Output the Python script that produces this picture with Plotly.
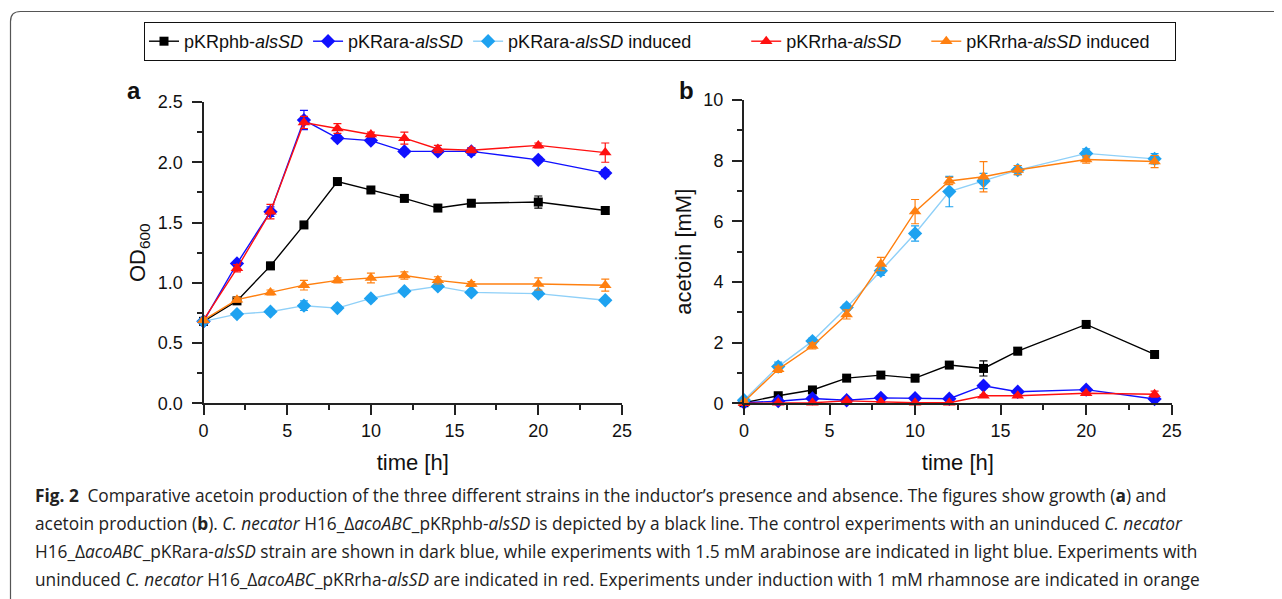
import plotly.graph_objects as go

W, H = 1282, 599
OFF = 8  # page body margin offset

time_h = [0, 2, 4, 6, 8, 10, 12, 14, 16, 20, 24]

NB = "\u00a0"
series_names = [
    "pKRphb-<i>alsSD</i>",
    "pKRara-<i>alsSD</i>",
    "pKRara-<i>alsSD</i> induced" + NB * 10,
    "pKRrha-<i>alsSD</i>" + NB * 4,
    "pKRrha-<i>alsSD</i> induced" + NB * 4,
]

# Panel a: OD600
od_phb = [0.68, 0.85, 1.14, 1.48, 1.84, 1.77, 1.70, 1.62, 1.66, 1.67, 1.60]
od_phb_err = [0.02, 0.02, 0.03, 0.02, 0.02, 0.02, 0.02, 0.02, 0.02, 0.05, 0.03]
od_ara = [0.68, 1.16, 1.59, 2.35, 2.20, 2.18, 2.09, 2.09, 2.09, 2.02, 1.91]
od_ara_err = [0.02, 0.02, 0.04, 0.08, 0.02, 0.02, 0.02, 0.02, 0.03, 0.02, 0.03]
od_ara_ind = [0.68, 0.74, 0.76, 0.81, 0.79, 0.87, 0.93, 0.97, 0.92, 0.91, 0.855]
od_ara_ind_err = [0.02, 0.02, 0.02, 0.04, 0.02, 0.02, 0.02, 0.02, 0.02, 0.02, 0.02]
od_rha = [0.69, 1.12, 1.59, 2.33, 2.28, 2.23, 2.20, 2.11, 2.10, 2.14, 2.08]
od_rha_err = [0.02, 0.03, 0.06, 0.05, 0.04, 0.02, 0.05, 0.03, 0.02, 0.02, 0.08]
od_rha_ind = [0.69, 0.86, 0.92, 0.98, 1.02, 1.04, 1.06, 1.02, 0.99, 0.99, 0.98]
od_rha_ind_err = [0.02, 0.02, 0.02, 0.04, 0.02, 0.04, 0.03, 0.03, 0.02, 0.05, 0.05]

# Panel b: acetoin [mM]
ac_phb = [0.02, 0.25, 0.44, 0.83, 0.93, 0.83, 1.26, 1.15, 1.72, 2.60, 1.61]
ac_phb_err = [0.02, 0.05, 0.05, 0.05, 0.10, 0.12, 0.08, 0.25, 0.12, 0.05, 0.12]
ac_ara = [0.02, 0.07, 0.16, 0.10, 0.18, 0.17, 0.15, 0.58, 0.38, 0.45, 0.14]
ac_ara_err = [0.02, 0.03, 0.03, 0.03, 0.03, 0.03, 0.03, 0.08, 0.05, 0.06, 0.05]
ac_ara_ind = [0.10, 1.21, 2.05, 3.16, 4.37, 5.60, 6.98, 7.33, 7.69, 8.24, 8.06]
ac_ara_ind_err = [0.03, 0.15, 0.10, 0.10, 0.15, 0.25, 0.50, 0.25, 0.15, 0.15, 0.17]
ac_rha = [0.00, 0.02, 0.02, 0.08, 0.04, 0.02, 0.02, 0.25, 0.25, 0.33, 0.30]
ac_rha_err = [0.01, 0.02, 0.02, 0.02, 0.02, 0.01, 0.01, 0.03, 0.03, 0.03, 0.10]
ac_rha_ind = [0.05, 1.12, 1.89, 2.93, 4.59, 6.32, 7.33, 7.47, 7.69, 8.04, 7.97]
ac_rha_ind_err = [0.03, 0.10, 0.10, 0.15, 0.22, 0.40, 0.12, 0.50, 0.15, 0.12, 0.20]

caption_lines = [
    "<b>Fig. 2</b>\u2002Comparative acetoin production of the three different strains in the inductor\u2019s presence and absence. The figures show growth (<b>a</b>) and",
    "acetoin production (<b>b</b>). <i>C. necator</i> H16_\u0394<i>acoABC</i>_pKRphb-<i>alsSD</i> is depicted by a black line. The control experiments with an uninduced <i>C. necator</i>",
    "H16_\u0394<i>acoABC</i>_pKRara-<i>alsSD</i> strain are shown in dark blue, while experiments with 1.5 mM arabinose are indicated in light blue. Experiments with",
    "uninduced <i>C. necator</i> H16_\u0394<i>acoABC</i>_pKRrha-<i>alsSD</i> are indicated in red. Experiments under induction with 1 mM rhamnose are indicated in orange",
]

styles = [
    dict(line="#000000", marker="#000000", symbol="square", size=9),
    dict(line="#1010ff", marker="#1010ff", symbol="diamond", size=11),
    dict(line="#8fd0f8", marker="#1ea2f0", symbol="diamond", size=11),
    dict(line="#ff1010", marker="#ff1010", symbol="triangle-up", size=11),
    dict(line="#ff8010", marker="#ff8010", symbol="triangle-up", size=11),
]

od_data = [(od_phb, od_phb_err), (od_ara, od_ara_err), (od_ara_ind, od_ara_ind_err),
           (od_rha, od_rha_err), (od_rha_ind, od_rha_ind_err)]
ac_data = [(ac_phb, ac_phb_err), (ac_ara, ac_ara_err), (ac_ara_ind, ac_ara_ind_err),
           (ac_rha, ac_rha_err), (ac_rha_ind, ac_rha_ind_err)]

fig = go.Figure()

for panel, data, xa, ya in [("a", od_data, "x", "y"), ("b", ac_data, "x2", "y2")]:
    for i, ((vals, errs), st, name) in enumerate(zip(data, styles, series_names)):
        fig.add_trace(go.Scatter(
            x=time_h, y=vals, xaxis=xa, yaxis=ya,
            mode="lines+markers", name=name,
            showlegend=(panel == "a"), legendgroup=str(i),
            line=dict(color=st["line"], width=1.4),
            marker=dict(color=st["marker"], symbol=st["symbol"], size=st["size"]),
            error_y=dict(type="data", array=errs, visible=True, color=st["marker"],
                         thickness=1.2, width=4),
            cliponaxis=False,
        ))

def px_x(p):
    return (p - OFF) / W

def px_y(p):
    return 1 - (p - OFF) / H

FONT = "Liberation Sans, Arial, sans-serif"

axis_common = dict(
    showline=True, linecolor="#222", linewidth=2, mirror=False,
    ticks="outside", ticklen=10, tickwidth=1.5, tickcolor="#222",
    showgrid=False, zeroline=False, automargin=False,
    tickfont=dict(family=FONT, size=18, color="#111"),
)
title_font = dict(family=FONT, size=22, color="#111")

fig.update_layout(
    width=W, height=H, autosize=False,
    margin=dict(l=0, r=0, t=0, b=0),
    paper_bgcolor="white", plot_bgcolor="white",
    font=dict(family=FONT, color="#111"),
    xaxis=dict(domain=[px_x(203.5), px_x(622)], range=[0, 25], dtick=5, anchor="y",
               minor=dict(ticks="outside", ticklen=5, dtick=2.5, tickcolor="#222", tickwidth=1.5),
               title=dict(text="time [h]", font=title_font),
               **axis_common),
    yaxis=dict(domain=[px_y(403.3), px_y(102)], range=[0, 2.5], dtick=0.5, tickformat=".1f", anchor="x",
               minor=dict(ticks="outside", ticklen=5, dtick=0.25, tickcolor="#222", tickwidth=1.5),
               title=dict(text="OD<sub>600</sub>", font=title_font, standoff=6),
               ticklabelstandoff=5,
               **axis_common),
    xaxis2=dict(domain=[px_x(744), px_x(1171.7)], range=[0, 25], dtick=5, anchor="y2",
                minor=dict(ticks="outside", ticklen=5, dtick=2.5, tickcolor="#222", tickwidth=1.5),
                title=dict(text="time [h]", font=title_font),
                **axis_common),
    yaxis2=dict(domain=[px_y(403.3), px_y(100)], range=[0, 10], dtick=2, anchor="x2",
                minor=dict(ticks="outside", ticklen=5, dtick=1, tickcolor="#222", tickwidth=1.5),
                title=dict(text="acetoin [mM]", font=title_font, standoff=6),
                ticklabelstandoff=5,
                **axis_common),
    legend=dict(
        orientation="h", x=px_x(144), y=px_y(22), xanchor="left", yanchor="top",
        bordercolor="#111", borderwidth=1, bgcolor="white",
        font=dict(family=FONT, size=18, color="#111"),
        itemwidth=30, tracegroupgap=0,
    ),
)

# Panel letters
fig.add_annotation(text="<b>a</b>", x=px_x(125), y=px_y(75), xref="paper", yref="paper",
                   showarrow=False, font=dict(family=FONT, size=24, color="#111"))
fig.add_annotation(text="<b>b</b>", x=px_x(686), y=px_y(75), xref="paper", yref="paper",
                   showarrow=False, font=dict(family=FONT, size=24, color="#111"))

# Caption
for k, line in enumerate(caption_lines):
    fig.add_annotation(text=line, x=px_x(33), y=px_y(495 + 28 * k), xref="paper", yref="paper",
                       xanchor="left", yanchor="middle", showarrow=False, align="left",
                       font=dict(family="Open Sans, sans-serif", size=17.3, color="#222"))

# Rounded frame
r = 10
x0, y0 = 10.5, 11.5
path = (f"M {px_x(x0)},{px_y(H + 5)} L {px_x(x0)},{px_y(y0 + r)} "
        f"Q {px_x(x0)},{px_y(y0)} {px_x(x0 + r)},{px_y(y0)} L {px_x(W + 5)},{px_y(y0)}")
fig.add_shape(type="path", path=path, xref="paper", yref="paper",
              line=dict(color="#555", width=1.2))

fig.write_html("out.html")
